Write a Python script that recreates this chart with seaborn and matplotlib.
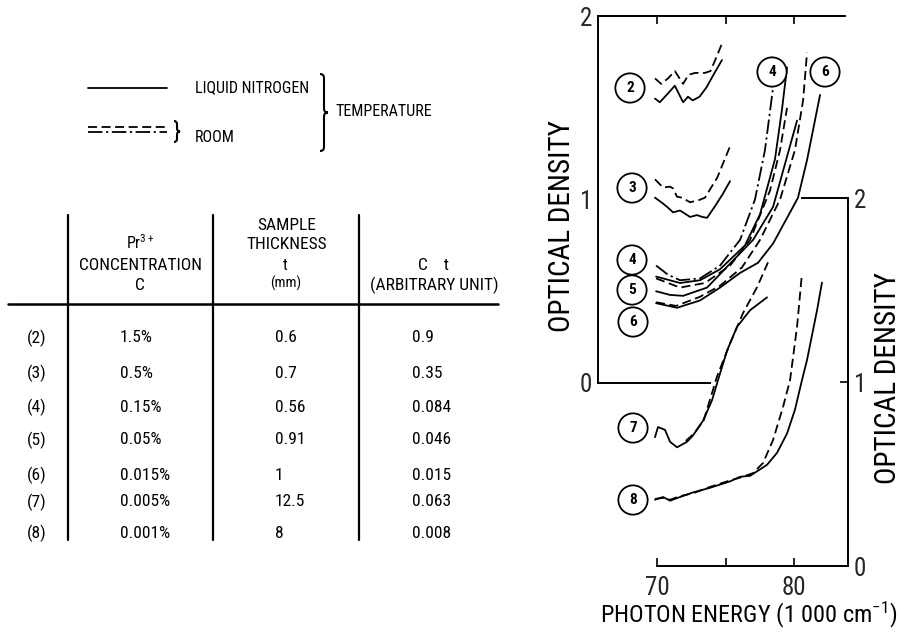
import matplotlib
matplotlib.use("Agg")
import matplotlib.pyplot as plt
import seaborn as sns
from matplotlib import font_manager
from matplotlib.lines import Line2D
from matplotlib.path import Path
from matplotlib.patches import PathPatch

# ---------------- data ----------------
# curve (2) upper panel
c2_ln_x = [69.85, 70.2, 70.7, 71.3, 71.9, 72.26, 72.6, 73.1, 73.6, 74.2, 74.74]
c2_ln_y = [1.55, 1.53, 1.57, 1.62, 1.53, 1.56, 1.54, 1.56, 1.61, 1.69, 1.76]
c2_rm_x = [69.85, 70.3, 70.8, 71.3, 71.9, 72.3, 72.8, 73.5, 73.9, 74.3, 74.74]
c2_rm_y = [1.66, 1.63, 1.66, 1.70, 1.63, 1.68, 1.69, 1.69, 1.70, 1.77, 1.85]
# curve (3)
c3_ln_x = [69.85, 70.4, 70.73, 71.17, 71.68, 72.1, 72.41, 72.92, 73.3, 73.65, 74.2, 74.8, 75.33]
c3_ln_y = [1.01, 0.98, 0.96, 0.93, 0.94, 0.92, 0.905, 0.915, 0.905, 0.90, 0.96, 1.03, 1.10]
c3_rm_x = [69.85, 70.44, 70.95, 71.17, 71.46, 71.82, 72.41, 73.0, 73.5, 74.4, 75.33]
c3_rm_y = [1.11, 1.065, 1.07, 1.06, 1.015, 1.01, 0.985, 0.995, 1.01, 1.12, 1.29]
# curve (4)
c4_ln_x = [69.93, 71.68, 73.14, 74.60, 76.42, 77.52, 78.61, 79.12, 79.49]
c4_ln_y = [0.58, 0.545, 0.56, 0.62, 0.75, 0.92, 1.22, 1.49, 1.72]
c4_rm_x = [69.93, 70.80, 71.68, 73.14, 74.60, 76.06, 77.15, 77.88, 78.47]
c4_rm_y = [0.64, 0.59, 0.56, 0.57, 0.64, 0.78, 1.00, 1.27, 1.61]
# curve (5)
c5_ln_x = [69.93, 70.95, 71.90, 73.65, 75.84, 77.01, 78.47, 80.22]
c5_ln_y = [0.50, 0.48, 0.475, 0.52, 0.69, 0.78, 0.96, 1.43]
c5_rm_x = [69.93, 71.68, 73.50, 75.33, 76.79, 78.25, 78.98, 79.49]
c5_rm_y = [0.57, 0.52, 0.545, 0.64, 0.78, 1.05, 1.27, 1.50]
# curve (6)
c6_ln_x = [69.93, 71.46, 73.14, 74.60, 76.06, 77.37, 78.47, 79.93, 80.29, 80.95, 81.90]
c6_ln_y = [0.435, 0.41, 0.45, 0.52, 0.60, 0.655, 0.76, 0.96, 1.01, 1.215, 1.57]
c6_rm_x = [69.93, 71.39, 73.14, 74.60, 76.20, 77.52, 78.98, 80.07, 80.66, 80.95]
c6_rm_y = [0.44, 0.42, 0.47, 0.53, 0.63, 0.78, 1.00, 1.27, 1.54, 1.80]
# curve (7) lower panel
c7_ln_x = [69.85, 70.07, 70.58, 70.95, 71.46, 72.19, 72.63, 73.36, 74.01, 74.45, 75.11, 75.84, 76.79, 78.03]
c7_ln_y = [0.70, 0.755, 0.74, 0.675, 0.645, 0.675, 0.71, 0.79, 0.90, 1.01, 1.17, 1.30, 1.39, 1.46]
c7_rm_x = [72.1, 72.7, 73.4, 74.38, 75.33, 76.28, 77.30, 78.10]
c7_rm_y = [0.68, 0.72, 0.79, 1.03, 1.21, 1.375, 1.515, 1.65]
# curve (8)
c8_ln_x = [69.85, 70.44, 70.95, 71.68, 72.63, 73.87, 75.33, 76.06, 76.79, 78.03, 78.76, 79.49, 80.07, 80.58, 80.95, 81.68, 82.04]
c8_ln_y = [0.36, 0.375, 0.355, 0.375, 0.40, 0.425, 0.46, 0.485, 0.49, 0.55, 0.615, 0.72, 0.85, 1.01, 1.12, 1.39, 1.54]
c8_rm_x = [69.85, 70.44, 70.95, 71.68, 72.63, 73.87, 75.33, 76.06, 77.01, 77.74, 78.47, 79.20, 79.71, 80.22, 80.58]
c8_rm_y = [0.365, 0.37, 0.36, 0.38, 0.395, 0.43, 0.465, 0.48, 0.505, 0.56, 0.685, 0.865, 1.01, 1.30, 1.59]

x_ticks = [70, 75, 80]
x_ticklabels = ["70", "", "80"]
y_ticks = [0, 1, 2]
y_ticklabels = ["0", "1", "2"]

row_labels = ["(2)", "(3)", "(4)", "(5)", "(6)", "(7)", "(8)"]
conc = ["1.5%", "0.5%", "0.15%", "0.05%", "0.015%", "0.005%", "0.001%"]
thick = ["0.6", "0.7", "0.56", "0.91", "1", "12.5", "8"]
ct = ["0.9", "0.35", "0.084", "0.046", "0.015", "0.063", "0.008"]

# ---------------- style ----------------
sns.set_theme(style="white")

# pick the narrowest available sans face
_fl = font_manager.fontManager.ttflist
_names = {f.name for f in _fl}
_cond = [f for f in _fl if f.name == "DejaVu Sans" and str(f.stretch) in
         ("condensed", "semi-condensed", "600", "700")]
STRETCH = "normal"
if "Liberation Sans Narrow" in _names:
    MAIN = "Liberation Sans Narrow"
elif "Roboto Condensed" in _names:
    MAIN = "Roboto Condensed"
elif _cond:
    MAIN = "DejaVu Sans"
    STRETCH = "condensed"
else:
    MAIN = "Roboto"
FAM = [MAIN, "DejaVu Sans"]
plt.rcParams["font.family"] = FAM
plt.rcParams["font.stretch"] = STRETCH
plt.rcParams["mathtext.fontset"] = "custom"
plt.rcParams["mathtext.rm"] = MAIN
plt.rcParams["mathtext.it"] = MAIN
plt.rcParams["text.color"] = "black"

W, H = 908, 632
fig = plt.figure(figsize=(W / 100, H / 100), dpi=100)
fig.patch.set_facecolor("white")

def fx(px):
    return px / W

def fy(py):
    return 1 - py / H

LW = 1.3
DASH = (0, (5, 2.5))
DASHDOT = (0, (8, 2, 1.2, 2))

XMIN, XMAX = 65.69, 83.94
ax_up = fig.add_axes([fx(598), fy(383), 250 / W, 367 / H])
ax_lo = fig.add_axes([fx(598), fy(566), 250 / W, 368 / H])
for ax in (ax_up, ax_lo):
    ax.set_facecolor("none")
    ax.set_xlim(XMIN, XMAX)
    ax.set_ylim(0, 2)
    for s in ax.spines.values():
        s.set_color("black")
        s.set_linewidth(1.4)

def draw(ax, x, y, ls):
    sns.lineplot(x=x, y=y, ax=ax, color="black", lw=LW, linestyle=ls,
                 sort=False, estimator=None)

draw(ax_up, c2_ln_x, c2_ln_y, "-")
draw(ax_up, c2_rm_x, c2_rm_y, DASH)
draw(ax_up, c3_ln_x, c3_ln_y, "-")
draw(ax_up, c3_rm_x, c3_rm_y, DASH)
draw(ax_up, c4_ln_x, c4_ln_y, "-")
draw(ax_up, c4_rm_x, c4_rm_y, DASHDOT)
draw(ax_up, c5_ln_x, c5_ln_y, "-")
draw(ax_up, c5_rm_x, c5_rm_y, DASH)
draw(ax_up, c6_ln_x, c6_ln_y, "-")
draw(ax_up, c6_rm_x, c6_rm_y, DASH)
draw(ax_lo, c7_ln_x, c7_ln_y, "-")
draw(ax_lo, c7_rm_x, c7_rm_y, DASH)
draw(ax_lo, c8_ln_x, c8_ln_y, "-")
draw(ax_lo, c8_rm_x, c8_rm_y, DASH)

TICKFS = 18
# upper axes
ax_up.spines["right"].set_visible(False)
ax_up.spines["top"].set_bounds(XMIN, 83.72)
ax_up.spines["bottom"].set_bounds(XMIN, 73.87)
ax_up.xaxis.set_ticks_position("top")
ax_up.set_xticks(x_ticks)
ax_up.tick_params(axis="x", top=True, bottom=False, labeltop=False, labelbottom=False,
                  direction="in", length=6, width=1.2, color="black")
ax_up.set_yticks(y_ticks)
ax_up.set_yticklabels(y_ticklabels, fontsize=TICKFS)
ax_up.set_yticks([1], minor=True)
ax_up.tick_params(axis="y", which="major", left=True, length=0, pad=4)
ax_up.tick_params(axis="y", which="minor", left=True, length=9, width=1.2,
                  direction="inout", color="black")
# lower axes
ax_lo.spines["left"].set_visible(False)
ax_lo.spines["top"].set_bounds(80.58, XMAX)
ax_lo.spines["bottom"].set_bounds(70, XMAX)
ax_lo.set_xticks(x_ticks)
ax_lo.set_xticklabels(x_ticklabels, fontsize=TICKFS)
ax_lo.tick_params(axis="x", bottom=True, top=False, direction="in", length=6,
                  width=1.2, pad=7, color="black")
ax_lo.yaxis.set_ticks_position("right")
ax_lo.set_yticks(y_ticks)
ax_lo.set_yticklabels(y_ticklabels, fontsize=TICKFS)
ax_lo.tick_params(axis="y", right=True, left=False, direction="in", length=6,
                  width=1.2, pad=4, color="black")
for ax in (ax_up, ax_lo):
    ax.set_xlabel("")
    ax.set_ylabel("")

# axis labels
LABFS = 21
fig.text(fx(562), fy(226), "OPTICAL DENSITY", rotation=90, fontsize=LABFS,
         ha="center", va="center")
fig.text(fx(888), fy(378), "OPTICAL DENSITY", rotation=90, fontsize=LABFS,
         ha="center", va="center")
fig.text(fx(749), fy(630), "PHOTON ENERGY (1 000 cm$^{-1}$)", fontsize=17.5,
         ha="center", va="bottom")

# circled curve numbers
circ = [("2", 630, 88), ("3", 632, 188), ("4", 632, 260), ("5", 632, 290),
        ("6", 633, 322), ("7", 633, 428), ("8", 633, 500), ("4", 772, 72),
        ("6", 825, 72)]
for t, px, py in circ:
    fig.text(fx(px), fy(py), t, fontsize=11, fontweight="bold", ha="center",
             va="center",
             bbox=dict(boxstyle="circle,pad=0.5", fc="white", ec="black", lw=1.3))

# ---------------- legend (left) ----------------
TFS = 11.5
VFS = 12.5
def hline(x0, x1, y, ls="-", lw=1.3):
    fig.add_artist(Line2D([fx(x0), fx(x1)], [fy(y), fy(y)], color="black",
                          lw=lw, linestyle=ls, transform=fig.transFigure))

def vline(x, y0, y1, lw=1.6):
    fig.add_artist(Line2D([fx(x), fx(x)], [fy(y0), fy(y1)], color="black",
                          lw=lw, transform=fig.transFigure))

hline(88, 167, 88)
hline(88, 167, 127, DASH)
hline(88, 167, 132, DASHDOT)
fig.text(fx(195), fy(88), "LIQUID NITROGEN", fontsize=TFS, va="center", ha="left")
fig.text(fx(195), fy(137), "ROOM", fontsize=TFS, va="center", ha="left")
fig.text(fx(335), fy(112), "TEMPERATURE", fontsize=TFS, va="center", ha="left")

def brace(x, y0, y1, w):
    ym = (y0 + y1) / 2
    r = w / 2
    pts = [(x, y0), (x + r, y0), (x + r, y0 + r),
           (x + r, ym - r), (x + r, ym), (x + w, ym),
           (x + r, ym), (x + r, ym + r),
           (x + r, y1 - r), (x + r, y1), (x, y1)]
    codes = [Path.MOVETO, Path.CURVE3, Path.CURVE3,
             Path.LINETO, Path.CURVE3, Path.CURVE3,
             Path.CURVE3, Path.CURVE3,
             Path.LINETO, Path.CURVE3, Path.CURVE3]
    verts = [(fx(a), fy(b)) for a, b in pts]
    fig.add_artist(PathPatch(Path(verts, codes), fill=False, lw=1.5,
                             ec="black", transform=fig.transFigure))

brace(174, 121, 142, 6)
brace(320, 74, 151, 8)

# ---------------- table ----------------
vline(68, 215, 540)
vline(213, 215, 540)
vline(359, 215, 540)
hline(8, 498, 304, "-", 1.8)

fig.text(fx(140), fy(243), "Pr$^{3+}$", fontsize=TFS, ha="center", va="center")
fig.text(fx(140), fy(265), "CONCENTRATION", fontsize=VFS, ha="center", va="center")
fig.text(fx(140), fy(285), "C", fontsize=VFS, ha="center", va="center")
fig.text(fx(287), fy(225), "SAMPLE", fontsize=VFS, ha="center", va="center")
fig.text(fx(287), fy(244), "THICKNESS", fontsize=VFS, ha="center", va="center")
fig.text(fx(285), fy(265), "t", fontsize=TFS, ha="center", va="center")
fig.text(fx(286), fy(283), "(mm)", fontsize=TFS - 1, ha="center", va="center")
fig.text(fx(433), fy(265), "C    t", fontsize=VFS, ha="center", va="center")
fig.text(fx(434), fy(285), "(ARBITRARY UNIT)", fontsize=VFS, ha="center", va="center")

row_y = [338, 373, 407, 440, 475, 502, 533]
for lab, c, t, v, y in zip(row_labels, conc, thick, ct, row_y):
    fig.text(fx(37), fy(y), lab, fontsize=VFS, ha="center", va="center")
    fig.text(fx(120), fy(y), c, fontsize=VFS, ha="left", va="center")
    fig.text(fx(275), fy(y), t, fontsize=VFS, ha="left", va="center")
    fig.text(fx(412), fy(y), v, fontsize=VFS, ha="left", va="center")

fig.savefig("out.png", dpi=100, facecolor="white")
